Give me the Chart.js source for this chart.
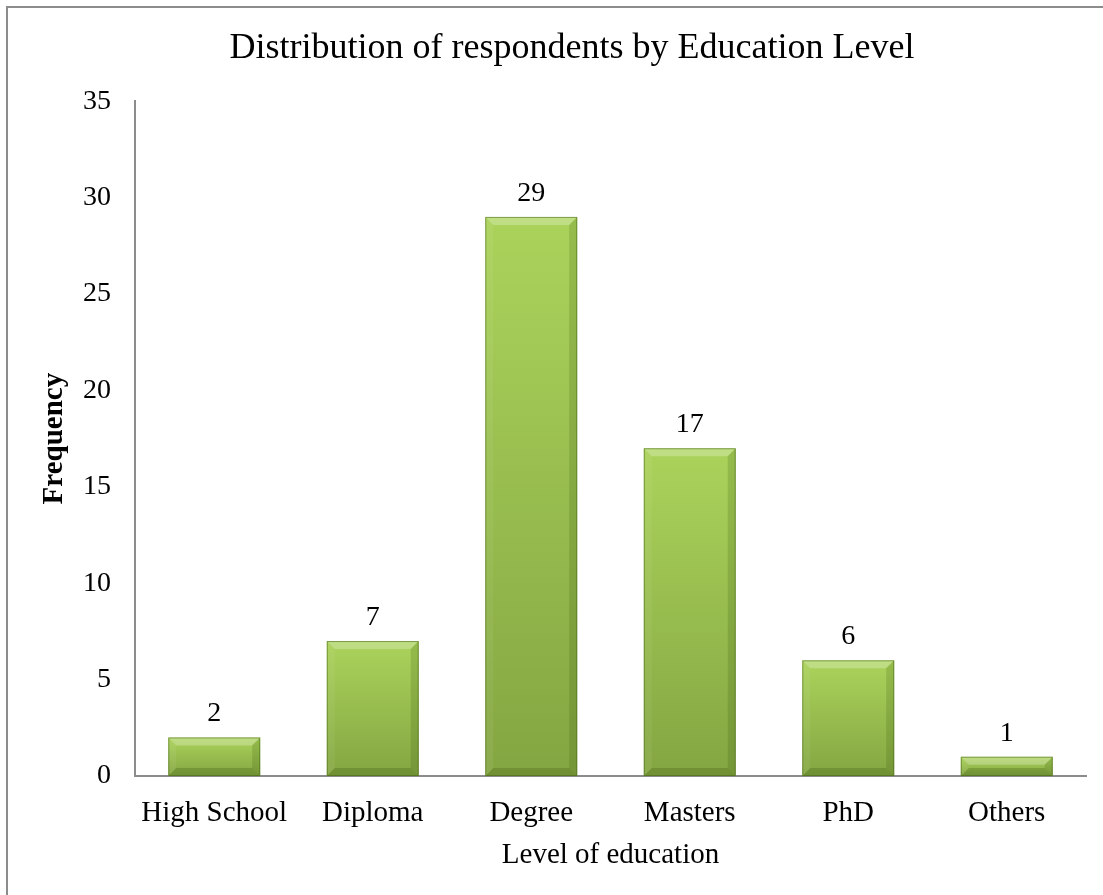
<!DOCTYPE html>
<html>
<head>
<meta charset="utf-8">
<script src="https://cdn.jsdelivr.net/npm/chart.js@4/dist/chart.umd.min.js"></script>
<style>
  html, body { margin: 0; padding: 0; background: #fff; overflow: hidden; }
  #frame { position: absolute; left: 6px; top: 6px; width: 1200px; height: 1000px;
           border-top: 2px solid #8c8c8c; border-left: 2px solid #8c8c8c; }
  #wrap { position: absolute; left: 0; top: 0; width: 1103px; height: 895px; }
</style>
</head>
<body>
<div id="frame"></div>
<div id="wrap"><canvas id="eduChart" width="1103" height="895"></canvas></div>
<script>
const levels = ['High School', 'Diploma', 'Degree', 'Masters', 'PhD', 'Others'];
const frequency = [2, 7, 29, 17, 6, 1];
const yTicks = [0, 5, 10, 15, 20, 25, 30, 35];

const serif = '"Liberation Serif", "Times New Roman", serif';

function barGradient(ctx) {
  const chart = ctx.chart;
  const yScale = chart.scales.y;
  if (!chart.chartArea || !yScale) return '#98c04c';
  const top = yScale.getPixelForValue(frequency[ctx.dataIndex]);
  const bottom = yScale.getPixelForValue(0);
  const g = chart.ctx.createLinearGradient(0, top, 0, bottom);
  g.addColorStop(0, '#abd35b');
  g.addColorStop(1, '#84a642');
  return g;
}

// bevel edges on each bar, drawn from the bar elements' own geometry
const bevel = {
  id: 'bevel',
  afterDatasetsDraw(chart) {
    const c = chart.ctx;
    chart.getDatasetMeta(0).data.forEach(bar => {
      const l = bar.x - bar.width / 2, r = bar.x + bar.width / 2;
      const t = bar.y, b = bar.base;
      const s = Math.min(8, (b - t) / 2);
      c.save();
      c.fillStyle = 'rgba(255,255,255,0.25)';
      c.beginPath(); c.moveTo(l, t); c.lineTo(r, t); c.lineTo(r - s, t + s); c.lineTo(l + s, t + s); c.closePath(); c.fill();
      c.fillStyle = 'rgba(255,255,255,0.06)';
      c.beginPath(); c.moveTo(l, t); c.lineTo(l + s, t + s); c.lineTo(l + s, b - s); c.lineTo(l, b); c.closePath(); c.fill();
      c.fillStyle = 'rgba(40,70,0,0.16)';
      c.beginPath(); c.moveTo(r, t); c.lineTo(r, b); c.lineTo(r - s, b - s); c.lineTo(r - s, t + s); c.closePath(); c.fill();
      c.fillStyle = 'rgba(40,70,0,0.22)';
      c.beginPath(); c.moveTo(l, b); c.lineTo(r, b); c.lineTo(r - s, b - s); c.lineTo(l + s, b - s); c.closePath(); c.fill();
      c.strokeStyle = 'rgba(70,100,20,0.55)';
      c.lineWidth = 1;
      c.strokeRect(l + 0.5, t + 0.5, bar.width - 1, b - t - 1);
      c.restore();
    });
  }
};

const valueLabels = {
  id: 'valueLabels',
  afterDatasetsDraw(chart) {
    const c = chart.ctx;
    c.save();
    c.font = '28px ' + serif;
    c.fillStyle = '#000';
    c.textAlign = 'center';
    c.textBaseline = 'alphabetic';
    chart.getDatasetMeta(0).data.forEach((bar, i) => {
      c.fillText(String(frequency[i]), bar.x, bar.y - 16);
    });
    c.restore();
  }
};

// nudge the title a little right, as in the original
const titleShift = {
  id: 'titleShift',
  afterLayout(chart) {
    if (chart.titleBlock) chart.titleBlock.left += 58;
  }
};

new Chart(document.getElementById('eduChart').getContext('2d'), {
  type: 'bar',
  data: {
    labels: levels,
    datasets: [{
      label: 'Frequency',
      data: frequency,
      backgroundColor: barGradient,
      borderWidth: 0,
      categoryPercentage: 1,
      barPercentage: 0.58
    }]
  },
  options: {
    responsive: false,
    animation: false,
    layout: { padding: { left: 0, right: 17, top: 0, bottom: 0 } },
    plugins: {
      legend: { display: false },
      tooltip: { enabled: false },
      title: {
        display: true,
        text: 'Distribution of respondents by Education Level',
        color: '#000',
        font: { family: serif, size: 36, weight: 'normal' },
        padding: { top: 27, bottom: 31 }
      }
    },
    scales: {
      y: {
        min: 0, max: 35,
        afterBuildTicks: s => { s.ticks = yTicks.map(v => ({ value: v })); },
        afterFit: s => { s.width = 135; },
        grid: { display: false, drawTicks: false },
        border: { display: true, color: '#8c8c8c', width: 2 },
        ticks: { color: '#000', padding: 24, font: { family: serif, size: 28 } },
        title: {
          display: true, text: 'Frequency', color: '#000',
          font: { family: serif, size: 29, weight: 'bold' }, padding: { top: 37, bottom: 0 }
        }
      },
      x: {
        afterFit: s => { s.height = 119; },
        grid: { display: false, drawTicks: false },
        border: { display: true, color: '#8c8c8c', width: 2 },
        ticks: { color: '#000', padding: 20, font: { family: serif, size: 29 } },
        title: {
          display: true, text: 'Level of education', color: '#000',
          font: { family: serif, size: 29 }, padding: { top: 6, bottom: 22 }
        }
      }
    }
  },
  plugins: [bevel, valueLabels, titleShift]
});
</script>
</body>
</html>
